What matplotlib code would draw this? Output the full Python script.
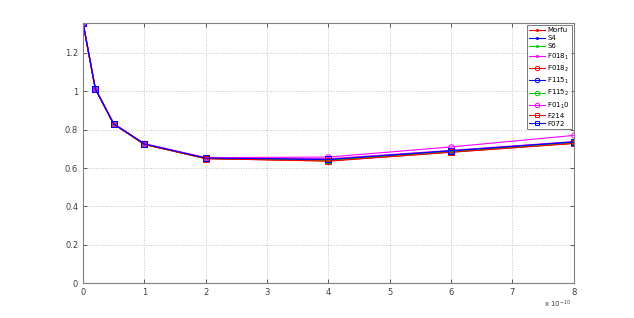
import matplotlib
matplotlib.use("Agg")
import matplotlib.pyplot as plt

x = [0, 0.2, 0.5, 1, 2, 4, 6, 8]  # in units of 1e-10

morfu  = [1.357, 1.013, 0.830, 0.724, 0.650, 0.640, 0.686, 0.732]
s4     = [1.357, 1.013, 0.830, 0.725, 0.651, 0.643, 0.688, 0.735]
s6     = [1.357, 1.013, 0.830, 0.724, 0.650, 0.638, 0.684, 0.730]
f018_1 = [1.357, 1.013, 0.830, 0.726, 0.652, 0.648, 0.692, 0.738]
f018_2 = [1.357, 1.012, 0.829, 0.723, 0.649, 0.637, 0.683, 0.729]
f115_1 = [1.357, 1.013, 0.830, 0.725, 0.651, 0.642, 0.688, 0.734]
f115_2 = [1.357, 1.013, 0.830, 0.724, 0.650, 0.639, 0.685, 0.731]
f01_10 = [1.357, 1.013, 0.831, 0.727, 0.654, 0.657, 0.710, 0.770]
f214   = [1.357, 1.012, 0.829, 0.723, 0.649, 0.636, 0.682, 0.728]
f072   = [1.357, 1.013, 0.830, 0.725, 0.652, 0.645, 0.690, 0.736]

labels = ["Morfu", "S4", "S6", "F018$_1$", "F018$_2$", "F115$_1$", "F115$_2$",
          "F01$_1$0", "F214", "F072"]
series = [morfu, s4, s6, f018_1, f018_2, f115_1, f115_2, f01_10, f214, f072]
styles = [("#ff0000", "."), ("#0000ff", "."), ("#00cc00", "."), ("#ff00ff", "."),
          ("#ff0000", "o"), ("#0000ff", "o"), ("#00cc00", "o"), ("#ff00ff", "o"),
          ("#ff0000", "s"), ("#0000ff", "s")]

fig = plt.figure(figsize=(6.34, 3.18), dpi=100)
ax = fig.add_axes([0.131, 0.110, 0.774, 0.818])

for ys, lab, (c, m) in zip(series, labels, styles):
    if m == ".":
        ax.plot(x, ys, color=c, marker=".", markersize=3, linewidth=0.8, label=lab)
    else:
        ax.plot(x, ys, color=c, marker=m, markersize=4, markerfacecolor="none",
                markeredgecolor=c, markeredgewidth=0.7, linewidth=0.8, label=lab)

ax.set_xlim(0, 8)
ax.set_ylim(0, 1.357)
ax.set_xticks(range(0, 9))
ax.set_xticklabels([str(i) for i in range(0, 9)])
ax.set_yticks([0, 0.2, 0.4, 0.6, 0.8, 1.0, 1.2])
ax.set_yticklabels(["0", "0.2", "0.4", "0.6", "0.8", "1", "1.2"])
ax.grid(True, linestyle=(0, (1, 2)), color="#b0b0b0", linewidth=0.6)
ax.tick_params(direction="in", labelsize=6, colors="#404040", length=3, width=0.6,
               top=True, right=True, labeltop=False, labelright=False)
for sp in ax.spines.values():
    sp.set_color("#808080")
    sp.set_linewidth(0.8)

ax.text(0.995, -0.062, "x 10$^{-10}$", transform=ax.transAxes, ha="right", va="top",
        fontsize=5, color="#404040")

leg = ax.legend(loc="upper right", fontsize=5, frameon=True, fancybox=False,
                edgecolor="#404040", handlelength=2.2, handletextpad=0.4,
                borderaxespad=0.25, labelspacing=0.3, borderpad=0.35,
                markerscale=0.8)
leg.get_frame().set_linewidth(0.6)

fig.savefig("out.png", dpi=100)
